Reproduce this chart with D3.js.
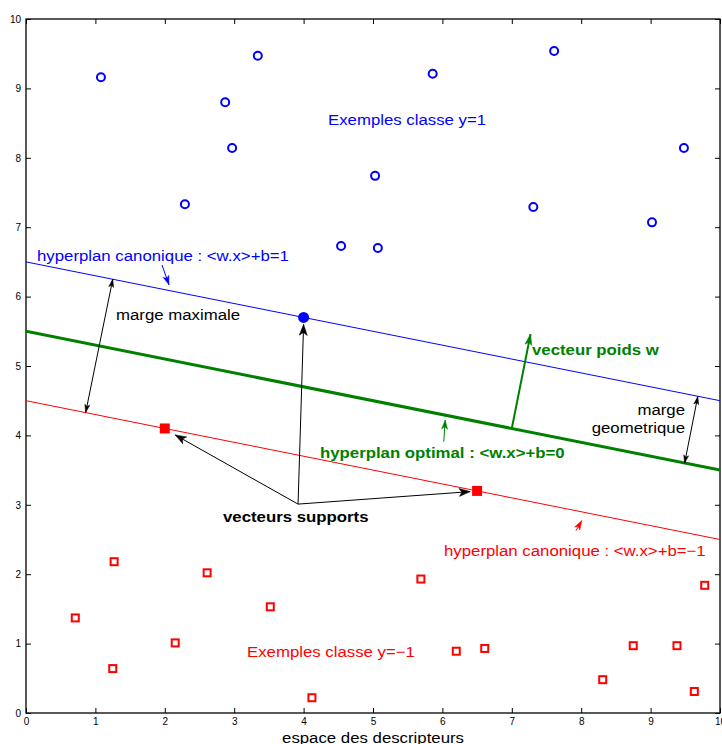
<!DOCTYPE html>
<html>
<head>
<meta charset="utf-8">
<script src="https://cdn.jsdelivr.net/npm/d3@7"></script>
<style>
  html, body { margin: 0; padding: 0; background: #fff; }
  svg text { font-family: "Liberation Sans", Arial, Helvetica, sans-serif; }
</style>
</head>
<body>
<svg id="chart" width="722" height="744"></svg>
<script>
// ---- data ----
const xTicks = [0, 1, 2, 3, 4, 5, 6, 7, 8, 9, 10];
const yTicks = [0, 1, 2, 3, 4, 5, 6, 7, 8, 9, 10];

const posX = [1.08, 3.34, 2.87, 2.97, 2.29, 4.54, 5.07, 5.03, 5.86, 7.61, 7.31, 9.02, 9.48];
const posY = [9.16, 9.47, 8.80, 8.14, 7.33, 6.73, 6.70, 7.74, 9.21, 9.54, 7.29, 7.07, 8.14];

const negX = [0.71, 1.27, 1.25, 2.15, 2.61, 3.52, 4.12, 5.69, 6.20, 6.61, 8.31, 8.75, 9.38, 9.63, 9.78];
const negY = [1.37, 2.18, 0.64, 1.01, 2.02, 1.53, 0.22, 1.93, 0.89, 0.93, 0.48, 0.97, 0.97, 0.31, 1.84];

const svPosX = [4.0];
const svPosY = [5.7];
const svNegX = [2.0, 6.5];
const svNegY = [4.1, 3.2];

// hyperplanes y = slope*x + intercept, for <w.x>+b = 1, 0, -1
const planeLevels = [1, 0, -1];
const planeSlope = -0.2;
const planeIntercepts = [6.5, 5.5, 4.5];

// ---- layout ----
const svg = d3.select("#chart");
const L = 26, R = 720, T = 19, B = 713;
const x = d3.scaleLinear().domain([0, 10]).range([L, R]);
const y = d3.scaleLinear().domain([0, 10]).range([B, T]);

const BLUE = "#0000ff", RED = "#ff0000", GREEN = "#008000", BLACK = "#000";
const SX = 1.12;

// axes
const gx = svg.append("g").attr("transform", `translate(0,${B})`)
  .call(d3.axisBottom(x).tickValues(xTicks).tickFormat(d3.format("d")).tickSize(-5).tickSizeOuter(0).tickPadding(5));
const gy = svg.append("g").attr("transform", `translate(${L},0)`)
  .call(d3.axisLeft(y).tickValues(yTicks).tickFormat(d3.format("d")).tickSize(-5).tickSizeOuter(0).tickPadding(5));
const gt = svg.append("g").attr("transform", `translate(0,${T})`)
  .call(d3.axisTop(x).tickValues(xTicks).tickFormat("").tickSize(-5).tickSizeOuter(0));
const gr = svg.append("g").attr("transform", `translate(${R},0)`)
  .call(d3.axisRight(y).tickValues(yTicks).tickFormat("").tickSize(-5).tickSizeOuter(0));
[gx, gy, gt, gr].forEach(g => {
  g.select(".domain").remove();
  g.selectAll(".tick line").attr("stroke", BLACK).attr("stroke-width", 1);
  g.selectAll(".tick text").attr("font-size", 10).attr("fill", "#000")
    .attr("font-family", "Liberation Sans, Arial, sans-serif");
});
svg.append("rect").attr("x", L).attr("y", T).attr("width", R - L).attr("height", B - T)
  .attr("fill", "none").attr("stroke", BLACK).attr("stroke-width", 1.3);

// clip
svg.append("clipPath").attr("id", "clip").append("rect")
  .attr("x", L).attr("y", T).attr("width", R - L).attr("height", B - T);
const plot = svg.append("g").attr("clip-path", "url(#clip)");

// hyperplanes
const planeColor = [BLUE, GREEN, RED];
const planeWidth = [1, 3, 1];
planeIntercepts.forEach((b0, i) => {
  plot.append("line")
    .attr("x1", x(0)).attr("y1", y(b0))
    .attr("x2", x(10)).attr("y2", y(planeSlope * 10 + b0))
    .attr("stroke", planeColor[i]).attr("stroke-width", planeWidth[i]);
});

// points
posX.forEach((v, i) => {
  svg.append("circle").attr("cx", x(v)).attr("cy", y(posY[i])).attr("r", 4)
    .attr("fill", "none").attr("stroke", BLUE).attr("stroke-width", 2);
});
negX.forEach((v, i) => {
  svg.append("rect").attr("x", x(v) - 3.5).attr("y", y(negY[i]) - 3.5)
    .attr("width", 7).attr("height", 7)
    .attr("fill", "none").attr("stroke", RED).attr("stroke-width", 2);
});
svPosX.forEach((v, i) => {
  svg.append("circle").attr("cx", x(v)).attr("cy", y(svPosY[i])).attr("r", 5.5).attr("fill", BLUE);
});
svNegX.forEach((v, i) => {
  svg.append("rect").attr("x", x(v) - 5).attr("y", y(svNegY[i]) - 5)
    .attr("width", 10).attr("height", 10).attr("fill", RED);
});

// arrows (data coords)
function head(px, py, ang, len, wid, color) {
  const ca = Math.cos(ang), sa = Math.sin(ang);
  const pt = (a, b) => [px - a * ca + b * sa, py - a * sa - b * ca];
  const p1 = pt(len, wid / 2), p2 = pt(len * 0.75, 0), p3 = pt(len, -wid / 2);
  svg.append("path").attr("d", `M${px},${py}L${p1}L${p2}L${p3}Z`).attr("fill", color).attr("stroke", color).attr("stroke-width", 0.5);
}
function arrow(x1, y1, x2, y2, color, w, len, wid, both) {
  const X1 = x(x1), Y1 = y(y1), X2 = x(x2), Y2 = y(y2);
  svg.append("line").attr("x1", X1).attr("y1", Y1).attr("x2", X2).attr("y2", Y2)
    .attr("stroke", color).attr("stroke-width", w);
  const ang = Math.atan2(Y2 - Y1, X2 - X1);
  head(X2, Y2, ang, len, wid, color);
  if (both) head(X1, Y1, ang + Math.PI, len, wid, color);
}

// marge maximale
arrow(0.86, 4.33, 1.25, 6.25, BLACK, 1, 8, 5, true);
// marge geometrique
arrow(9.49, 3.60, 9.68, 4.56, BLACK, 1, 8, 5, true);
// vecteur poids w
arrow(7.0, 4.1, 7.27, 5.46, GREEN, 2, 11, 7, false);
// small label arrows
arrow(1.96, 6.455, 2.06, 6.17, BLUE, 1, 9, 6, false);
arrow(6.02, 3.91, 6.04, 4.22, GREEN, 1, 9, 6, false);
arrow(7.925, 2.627, 8.007, 2.77, RED, 1, 9, 6, false);
// vecteurs supports
arrow(3.92, 3.01, 4.0, 5.60, BLACK, 1, 11, 8, false);
arrow(3.92, 3.01, 2.15, 4.006, BLACK, 1, 11, 8, false);
arrow(3.92, 3.01, 6.40, 3.19, BLACK, 1, 11, 8, false);

// text labels
function label(px, py, txt, color, opts = {}) {
  const g = svg.append("g").attr("transform", `translate(${px},${py}) scale(${SX},1)`);
  g.append("text").text(txt).attr("fill", color)
    .attr("font-size", opts.size || 15)
    .attr("font-weight", opts.bold ? "bold" : "normal")
    .attr("text-anchor", opts.anchor || "start");
}
label(328, 125, "Exemples classe y=1", BLUE);
label(37, 261, "hyperplan canonique : <w.x>+b=1", BLUE);
label(116, 320, "marge maximale", BLACK);
label(532, 355, "vecteur poids w", GREEN, { bold: true });
label(685, 415, "marge", BLACK, { anchor: "end" });
label(685, 433, "geometrique", BLACK, { anchor: "end" });
label(320, 458, "hyperplan optimal : <w.x>+b=0", GREEN, { bold: true });
label(223, 522, "vecteurs supports", BLACK, { bold: true });
label(444, 556, "hyperplan canonique : <w.x>+b=\u22121", RED);
label(247, 657, "Exemples classe y=\u22121", RED);
label(373, 743, "espace des descripteurs", BLACK, { anchor: "middle" });
</script>
</body>
</html>
